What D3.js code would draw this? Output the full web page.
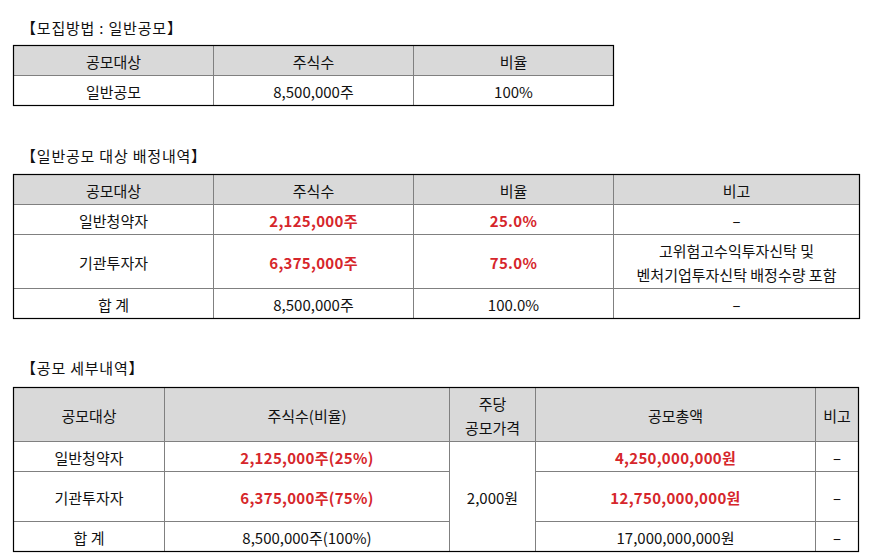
<!DOCTYPE html>
<html>
<head>
<meta charset="utf-8">
<script src="https://cdn.jsdelivr.net/npm/d3@7"></script>
<style>
  html, body { margin: 0; padding: 0; background: #fff; }
  svg { display: block; }
  text { font-family: "Noto Sans CJK KR", "Noto Sans", sans-serif; font-size: 15px; }
</style>
</head>
<body>
<svg id="chart" width="877" height="560"></svg>
<script>
// ---------- data ----------
const titles = ["【모집방법 : 일반공모】", "【일반공모 대상 배정내역】", "【공모 세부내역】"];

const t1Header = ["공모대상", "주식수", "비율"];
const t1Categories = ["일반공모"];
const t1Shares = ["8,500,000주"];
const t1Ratio = ["100%"];

const t2Header = ["공모대상", "주식수", "비율", "비고"];
const t2Categories = ["일반청약자", "기관투자자", "합 계"];
const t2Shares = ["2,125,000주", "6,375,000주", "8,500,000주"];
const t2Ratio = ["25.0%", "75.0%", "100.0%"];
const t2Note = [["-"], ["고위험고수익투자신탁 및", "벤처기업투자신탁 배정수량 포함"], ["-"]];
const t2Highlight = [true, true, false];

const t3Header = [["공모대상"], ["주식수(비율)"], ["주당", "공모가격"], ["공모총액"], ["비고"]];
const t3Categories = ["일반청약자", "기관투자자", "합 계"];
const t3Shares = ["2,125,000주(25%)", "6,375,000주(75%)", "8,500,000주(100%)"];
const t3Price = ["2,000원"];
const t3Total = ["4,250,000,000원", "12,750,000,000원", "17,000,000,000원"];
const t3Note = ["-", "-", "-"];
const t3Highlight = [true, true, false];

// ---------- layout ----------
const svg = d3.select("#chart");
const RED = "#d6262b";
const HEAD = "#d9d9d9";
const INNER = "#808080";

function drawTable(colEdges, rowEdges, cells) {
  const g = svg.append("g");
  cells.forEach(c => {
    const x0 = colEdges[c.c], x1 = colEdges[c.c + (c.cs || 1)];
    const y0 = rowEdges[c.r], y1 = rowEdges[c.r + (c.rs || 1)];
    g.append("rect")
      .attr("x", x0 + 0.5).attr("y", y0 + 0.5)
      .attr("width", x1 - x0).attr("height", y1 - y0)
      .attr("fill", c.header ? HEAD : "#fff")
      .attr("stroke", INNER).attr("stroke-width", 1);
    const lines = Array.isArray(c.text) ? c.text : [c.text];
    const lh = 24;
    const cy = (y0 + y1) / 2 + 1;
    const t = g.append("text")
      .attr("text-anchor", "middle")
      .style("fill", c.red ? RED : "#111")
      .style("font-weight", c.red ? "bold" : "normal")
      .style("letter-spacing", c.red ? "0.3px" : "0px");
    lines.forEach((ln, i) => {
      const ts = t.append("tspan")
        .attr("x", (x0 + x1) / 2 + 0.5)
        .attr("y", cy + (i - (lines.length - 1) / 2) * lh)
        .attr("dominant-baseline", "central")
        .text(ln);
      if (ln === "-") {
        t.attr("textLength", 9).attr("lengthAdjust", "spacingAndGlyphs");
      }
    });
  });
  const X0 = colEdges[0], X1 = colEdges[colEdges.length - 1];
  const Y0 = rowEdges[0], Y1 = rowEdges[rowEdges.length - 1];
  g.append("rect")
    .attr("x", X0 + 0.5).attr("y", Y0 + 0.5)
    .attr("width", X1 - X0).attr("height", Y1 - Y0)
    .attr("fill", "none").attr("stroke", "#000").attr("stroke-width", 1.2);
}

function title(txt, x, y) {
  svg.append("text").attr("x", x).attr("y", y)
    .style("fill", "#111")
    .style("letter-spacing", "0.8px")
    .attr("dominant-baseline", "central").text(txt);
}

// Table 1
title(titles[0], 21, 27);
{
  const cells = [];
  t1Header.forEach((h, i) => cells.push({ r: 0, c: i, text: h, header: true }));
  t1Categories.forEach((cat, i) => {
    cells.push({ r: i + 1, c: 0, text: cat });
    cells.push({ r: i + 1, c: 1, text: t1Shares[i] });
    cells.push({ r: i + 1, c: 2, text: t1Ratio[i] });
  });
  drawTable([13, 213, 413, 613], [45, 75, 105], cells);
}

// Table 2
title(titles[1], 21, 155);
{
  const cells = [];
  t2Header.forEach((h, i) => cells.push({ r: 0, c: i, text: h, header: true }));
  t2Categories.forEach((cat, i) => {
    cells.push({ r: i + 1, c: 0, text: cat });
    cells.push({ r: i + 1, c: 1, text: t2Shares[i], red: t2Highlight[i] });
    cells.push({ r: i + 1, c: 2, text: t2Ratio[i], red: t2Highlight[i] });
    cells.push({ r: i + 1, c: 3, text: t2Note[i] });
  });
  drawTable([13, 213, 413, 613, 859], [174, 204, 234, 288, 318], cells);
}

// Table 3
title(titles[2], 21, 367);
{
  const cells = [];
  t3Header.forEach((h, i) => cells.push({ r: 0, c: i, text: h, header: true }));
  t3Categories.forEach((cat, i) => {
    cells.push({ r: i + 1, c: 0, text: cat });
    cells.push({ r: i + 1, c: 1, text: t3Shares[i], red: t3Highlight[i] });
    cells.push({ r: i + 1, c: 3, text: t3Total[i], red: t3Highlight[i] });
    cells.push({ r: i + 1, c: 4, text: t3Note[i] });
  });
  cells.push({ r: 1, c: 2, rs: 3, text: t3Price[0] });
  drawTable([13, 164, 449, 535, 815, 858], [387, 441, 471, 521, 551], cells);
}
</script>
</body>
</html>
